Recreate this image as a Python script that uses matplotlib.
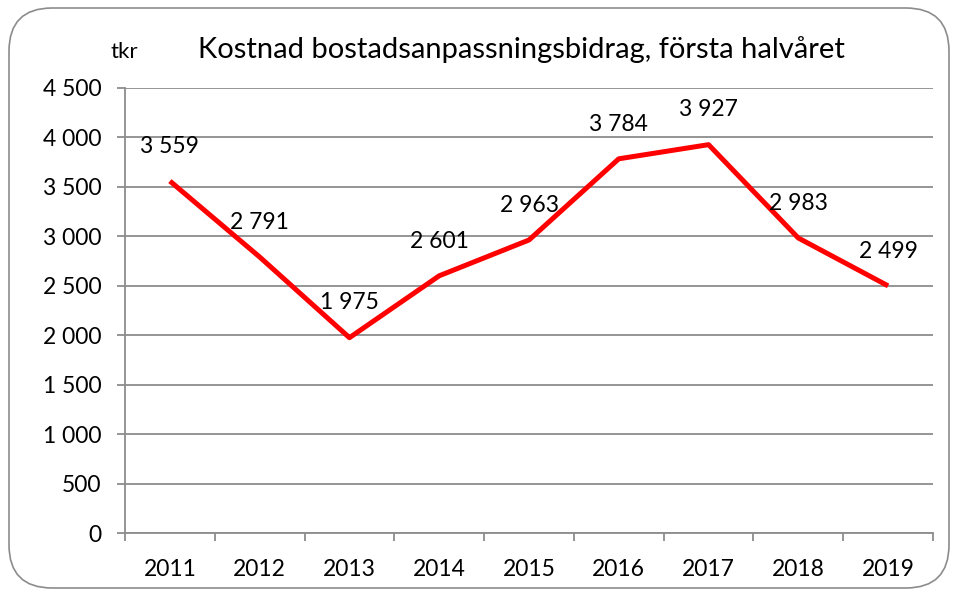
import matplotlib
matplotlib.use("Agg")
import matplotlib.pyplot as plt
from matplotlib.patches import FancyBboxPatch
from matplotlib.ticker import FuncFormatter, FixedLocator

# Data
years = ["2011", "2012", "2013", "2014", "2015", "2016", "2017", "2018", "2019"]
cost = [3559, 2791, 1975, 2601, 2963, 3784, 3927, 2983, 2499]

plt.rcParams['font.family'] = ['Lato', 'DejaVu Sans']

fig = plt.figure(figsize=(9.59, 5.97), dpi=100)
ax = fig.add_axes([125/959, 64/597, 808/959, 445/597])

# rundad ram runt diagrammet
frame = FancyBboxPatch((9/959, 9/597), 940/959, 580/597,
                       boxstyle="round,pad=0,rounding_size=0.045",
                       transform=fig.transFigure, fill=False,
                       edgecolor='#8c8c8c', linewidth=1.2,
                       mutation_aspect=959/597)
fig.patches.append(frame)

x = list(range(len(years)))
ax.plot(x, cost, color='#ff0000', linewidth=3.6, solid_capstyle='butt', zorder=3)

def fmt(v):
    return f"{int(v):,}".replace(",", " ")

for xi, v in zip(x, cost):
    ax.annotate(fmt(v), (xi, v), xytext=(0, 25), textcoords='offset points',
                ha='center', va='center', fontsize=16.5, color='black')

ax.set_xlim(-0.5, len(years) - 0.5)
ax.set_ylim(0, 4500)
ax.set_yticks(range(0, 4501, 500))
ax.yaxis.set_major_formatter(FuncFormatter(lambda v, p: fmt(v)))
ax.grid(axis='y', color='#8c8c8c', linewidth=1.3)
ax.set_axisbelow(True)

ax.set_xticks(x)
ax.set_xticklabels(years)
ax.xaxis.set_minor_locator(FixedLocator([i - 0.5 for i in range(len(years) + 1)]))
ax.tick_params(axis='x', which='major', length=0, pad=19, labelsize=16.5)
ax.tick_params(axis='x', which='minor', length=6, width=1.3, color='#8c8c8c')
ax.tick_params(axis='y', length=6, width=1.3, color='#8c8c8c', pad=11, labelsize=16.5)

for s in ['top', 'right']:
    ax.spines[s].set_visible(False)
ax.spines['left'].set_color('#8c8c8c')
ax.spines['left'].set_linewidth(1.3)
ax.spines['bottom'].set_color('#8c8c8c')
ax.spines['bottom'].set_linewidth(1.3)

fig.text(124/959, 1 - 52/597, "tkr", fontsize=16, ha='center', va='center')
fig.text(521/959, 1 - 50/597, "Kostnad bostadsanpassningsbidrag, första halvåret",
         fontsize=21, ha='center', va='center')

fig.savefig("out.png", dpi=100)
